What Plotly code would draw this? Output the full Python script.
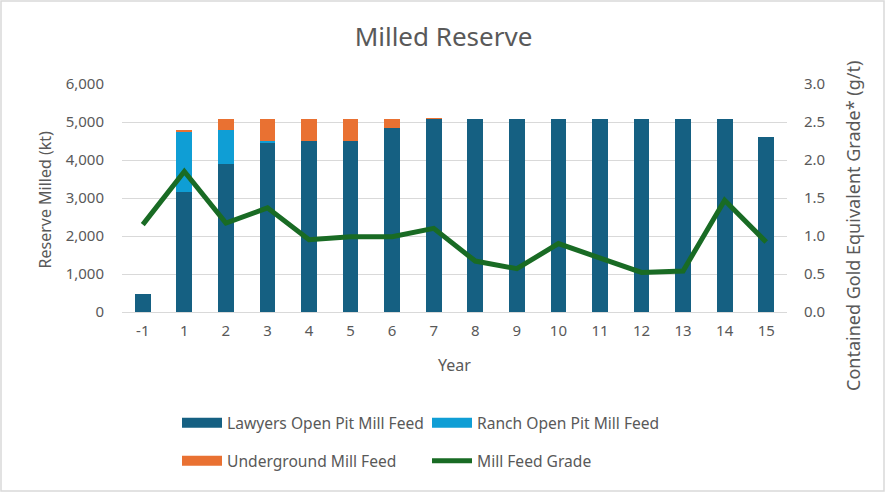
import plotly.graph_objects as go

years = ["-1", "1", "2", "3", "4", "5", "6", "7", "8", "9", "10", "11", "12", "13", "14", "15"]
lawyers = [480, 3160, 3900, 4450, 4490, 4490, 4840, 5080, 5090, 5090, 5090, 5090, 5090, 5090, 5090, 4610]
ranch = [0, 1580, 885, 50, 0, 0, 0, 0, 0, 0, 0, 0, 0, 0, 0, 0]
underground = [0, 35, 305, 590, 600, 600, 250, 20, 0, 0, 0, 0, 0, 0, 0, 0]
grade = [1.15, 1.85, 1.17, 1.37, 0.95, 0.99, 0.99, 1.10, 0.67, 0.57, 0.90, 0.71, 0.52, 0.54, 1.47, 0.92]

font = "Noto Sans"
grey = "#595959"
c_lawyers, c_ranch, c_ug, c_grade = "#156082", "#0F9ED5", "#E97132", "#196B24"

fig = go.Figure()
fig.add_trace(go.Bar(x=years, y=lawyers, name="Lawyers Open Pit Mill Feed",
                     marker=dict(color=c_lawyers, line=dict(width=0)), showlegend=False))
fig.add_trace(go.Bar(x=years, y=ranch, name="Ranch Open Pit Mill Feed",
                     marker=dict(color=c_ranch, line=dict(width=0)), showlegend=False))
fig.add_trace(go.Bar(x=years, y=underground, name="Underground Mill Feed",
                     marker=dict(color=c_ug, line=dict(width=0)), showlegend=False))
fig.add_trace(go.Scatter(x=years, y=grade, name="Mill Feed Grade", mode="lines", yaxis="y2",
                         line=dict(color=c_grade, width=5), showlegend=False))

# legend entries (wide swatches like the Excel legend)
legend_items = [("Lawyers Open Pit Mill Feed", c_lawyers, 12, "legend"),
                ("Ranch Open Pit Mill Feed", c_ranch, 12, "legend"),
                ("Underground Mill Feed", c_ug, 12, "legend2"),
                ("Mill Feed Grade", c_grade, 5, "legend2")]
for name, col, w, lg in legend_items:
    fig.add_trace(go.Scatter(x=[None], y=[None], name=name, mode="lines",
                             line=dict(color=col, width=w), legend=lg))

pw, ph = 665, 228
fig.update_layout(
    width=887, height=492,
    margin=dict(l=122, r=100, t=84, b=180),
    paper_bgcolor="white", plot_bgcolor="white",
    barmode="stack", bargap=0.62,
    font=dict(family=font, color=grey, size=15),
    title=dict(text="Milled Reserve", x=0.5, xanchor="center", y=1 - 37 / 492, yanchor="middle",
               font=dict(size=26, color=grey)),
    xaxis=dict(title=dict(text="Year", font=dict(size=16), standoff=20), type="category",
               showgrid=False, showline=True, linecolor="#d9d9d9", linewidth=1,
               ticks="", tickfont=dict(size=15), ticklabelstandoff=5),
    yaxis=dict(range=[0, 6000], dtick=1000, tickformat=",", gridcolor="#d9d9d9",
               zeroline=False, tickfont=dict(size=15), ticklabelstandoff=17, automargin=False),
    yaxis2=dict(overlaying="y", side="right", range=[0, 3], dtick=0.5, tickformat=".1f",
                showgrid=False, zeroline=False, tickfont=dict(size=15), ticklabelstandoff=16,
                automargin=False),
    annotations=[
        dict(text="Reserve Milled (kt)", xref="paper", yref="paper", x=(44 - 122) / pw,
             y=(312 - 199.5) / ph, xanchor="center", yanchor="middle", textangle=-90,
             showarrow=False, font=dict(size=16, color=grey)),
        dict(text="Contained Gold Equivalent Grade* (g/t)", xref="paper", yref="paper",
             x=(853 - 122) / pw, y=(312 - 226) / ph, xanchor="center", yanchor="middle",
             textangle=-90, showarrow=False, font=dict(size=18, color=grey)),
    ],
    legend=dict(orientation="h", x=(177 - 122) / pw, y=-(423 - 312) / ph, xanchor="left", yanchor="middle",
                entrywidth=195, itemwidth=40, font=dict(size=15.6), traceorder="normal"),
    legend2=dict(orientation="h", x=(177 - 122) / pw, y=-(461 - 312) / ph, xanchor="left", yanchor="middle",
                 entrywidth=195, itemwidth=40, font=dict(size=15.6), traceorder="normal"),
    shapes=[dict(type="rect", xref="paper", yref="paper",
                 x0=-121 / pw, x1=1 + 97 / pw, y0=-179 / ph, y1=1 + 83 / ph,
                 line=dict(color="#d9d9d9", width=1.5))],
)

fig.write_html("out.html", config={"displayModeBar": False},
               post_script="document.body.style.margin='0';document.body.style.overflow='hidden';")
